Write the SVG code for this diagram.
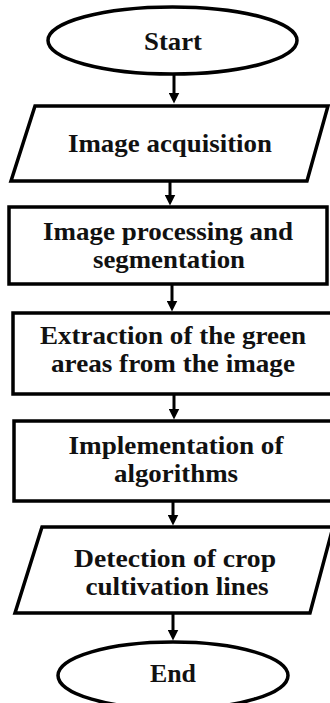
<svg xmlns="http://www.w3.org/2000/svg" width="330" height="703" viewBox="0 0 330 703">
<style>
.shape{fill:#fff;stroke:#000;stroke-width:3.5}
.lbl{font-family:'Times New Roman','Liberation Serif',Tinos,'Nimbus Roman',serif;font-weight:700;font-size:26px;fill:#111;text-anchor:middle}
.conn{stroke:#000;stroke-width:3;fill:none}
</style>
<defs>
<marker id="ah" markerUnits="userSpaceOnUse" markerWidth="11" markerHeight="11" viewBox="0 0 11 11" refX="0.5" refY="5.5" orient="auto">
<path d="M0,0 L11,5.5 L0,11 Z" fill="#000"/>
</marker>
</defs>
<rect width="330" height="703" fill="#fff"/>
<g id="connectors">
<line class="conn" x1="174" y1="74" x2="174" y2="93" marker-end="url(#ah)"/>
<line class="conn" x1="170" y1="181" x2="170" y2="195" marker-end="url(#ah)"/>
<line class="conn" x1="172" y1="284" x2="172" y2="301" marker-end="url(#ah)"/>
<line class="conn" x1="174" y1="394" x2="174" y2="409" marker-end="url(#ah)"/>
<line class="conn" x1="173" y1="501" x2="173" y2="515" marker-end="url(#ah)"/>
<line class="conn" x1="173" y1="613" x2="173" y2="630" marker-end="url(#ah)"/>
</g>
<g id="start">
<ellipse class="shape" cx="172.5" cy="40.5" rx="124.5" ry="33.5"/>
<text class="lbl" x="173" y="50" textLength="58" lengthAdjust="spacingAndGlyphs">Start</text>
</g>
<g id="acquisition">
<polygon class="shape" points="35,106 328,106 307,181 11,181"/>
<text class="lbl" x="170" y="152" textLength="204" lengthAdjust="spacingAndGlyphs">Image acquisition</text>
</g>
<g id="processing">
<rect class="shape" x="9" y="207" width="318" height="77"/>
<text class="lbl" x="168" y="240" textLength="250" lengthAdjust="spacingAndGlyphs">Image processing and</text>
<text class="lbl" x="169" y="268" textLength="152" lengthAdjust="spacingAndGlyphs">segmentation</text>
</g>
<g id="extraction">
<rect class="shape" x="13" y="313" width="319" height="81"/>
<text class="lbl" x="173" y="344" textLength="266" lengthAdjust="spacingAndGlyphs">Extraction of the green</text>
<text class="lbl" x="173" y="372" textLength="244" lengthAdjust="spacingAndGlyphs">areas from the image</text>
</g>
<g id="algorithms">
<rect class="shape" x="14" y="421" width="318" height="80"/>
<text class="lbl" x="176" y="454" textLength="215" lengthAdjust="spacingAndGlyphs">Implementation of</text>
<text class="lbl" x="176" y="482" textLength="124" lengthAdjust="spacingAndGlyphs">algorithms</text>
</g>
<g id="detection">
<polygon class="shape" points="42,527 333,527 310,613 15,613"/>
<text class="lbl" x="175" y="567" textLength="202" lengthAdjust="spacingAndGlyphs">Detection of crop</text>
<text class="lbl" x="177" y="595" textLength="183" lengthAdjust="spacingAndGlyphs">cultivation lines</text>
</g>
<g id="end">
<ellipse class="shape" cx="173" cy="675.5" rx="115" ry="33.5"/>
<text class="lbl" x="173" y="682" textLength="46" lengthAdjust="spacingAndGlyphs">End</text>
</g>
</svg>
